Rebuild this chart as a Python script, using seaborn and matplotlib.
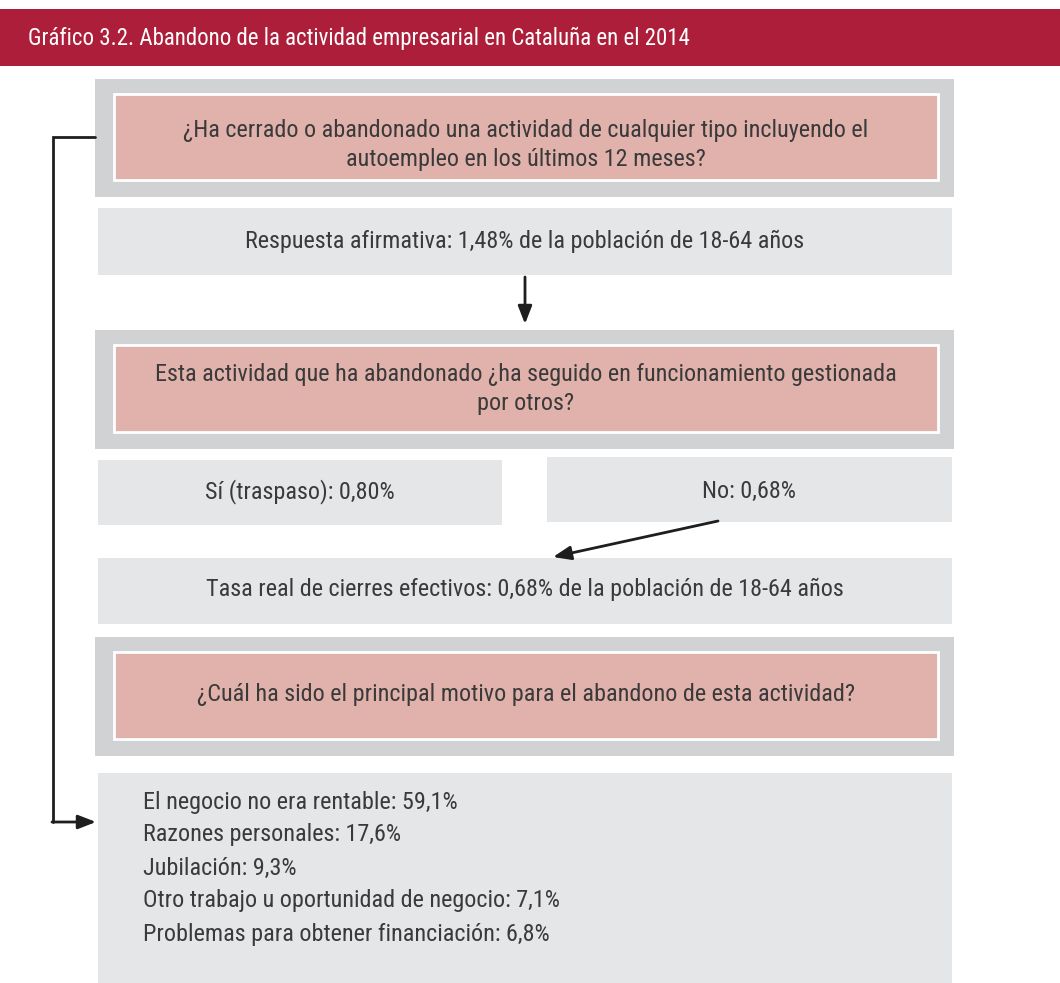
import matplotlib
matplotlib.use("Agg")
import matplotlib.pyplot as plt
import seaborn as sns
from matplotlib.patches import Rectangle

# ---- data ----
titulo = "Gráfico 3.2. Abandono de la actividad empresarial en Cataluña en el 2014"
pregunta_1 = "¿Ha cerrado o abandonado una actividad de cualquier tipo incluyendo el\nautoempleo en los últimos 12 meses?"
pregunta_2 = "Esta actividad que ha abandonado ¿ha seguido en funcionamiento gestionada\npor otros?"
pregunta_3 = "¿Cuál ha sido el principal motivo para el abandono de esta actividad?"
tasa_afirmativa = 1.48
tasa_traspaso = 0.80
tasa_no = 0.68
tasa_cierres = 0.68
motivos = [
    "El negocio no era rentable",
    "Razones personales",
    "Jubilación",
    "Otro trabajo u oportunidad de negocio",
    "Problemas para obtener financiación",
]
motivos_pct = [59.1, 17.6, 9.3, 7.1, 6.8]


def pct(v):
    return f"{v:.2f}".replace(".", ",") + "%"


def pct1(v):
    return f"{v:.1f}".replace(".", ",") + "%"


sns.set_theme(style="white")
plt.rcParams["font.family"] = ["Roboto Condensed", "Roboto", "DejaVu Sans"]

ROJO = "#AD1E3A"
GRIS_OSC = "#D1D2D4"
ROSA = "#E1B2AB"
GRIS_CLARO = "#E5E6E8"
TEXTO = "#3A3A3A"
FS = 17.4

fig = plt.figure(figsize=(10.6, 9.83), dpi=100)
ax = fig.add_axes([0, 0, 1, 1])
ax.set_xlim(0, 1060)
ax.set_ylim(983, 0)
ax.axis("off")


def caja(x0, y0, x1, y1, color, **kw):
    ax.add_patch(Rectangle((x0, y0), x1 - x0, y1 - y0, facecolor=color,
                           edgecolor="none", **kw))


def pregunta(y0, y1, texto, ytxt):
    caja(95, y0, 954, y1, GRIS_OSC)
    ax.add_patch(Rectangle((114, y0 + 15), 824, (y1 - y0) - 32,
                           facecolor=ROSA, edgecolor="white", linewidth=2))
    ax.text(526, ytxt, texto, ha="center", va="center",
            fontsize=FS, color=TEXTO, linespacing=1.3)


def flecha(x0, y0, x1, y1):
    ax.annotate("", xy=(x1, y1), xytext=(x0, y0),
                arrowprops=dict(arrowstyle="-|>,head_length=0.9,head_width=0.35",
                                color="#1E1E1E", lw=2, shrinkA=0, shrinkB=0))


# header
caja(0, 9, 1060, 66, ROJO)
ax.text(28, 38, titulo, ha="left", va="center", fontsize=16.5, color="white")

# first question
pregunta(79, 197, pregunta_1, 145)

caja(98, 208, 952, 275, GRIS_CLARO)
ax.text(525, 241,
        f"Respuesta afirmativa: {pct(tasa_afirmativa)} de la población de 18-64 años",
        ha="center", va="center", fontsize=FS, color=TEXTO)

flecha(525, 277, 525, 324)

# second question
pregunta(330, 449, pregunta_2, 389)

caja(98, 460, 502, 525, GRIS_CLARO)
ax.text(300, 492, f"Sí (traspaso): {pct(tasa_traspaso)}",
        ha="center", va="center", fontsize=FS, color=TEXTO)
caja(547, 457, 952, 522, GRIS_CLARO)
ax.text(749, 491, f"No: {pct(tasa_no)}",
        ha="center", va="center", fontsize=FS, color=TEXTO)

flecha(718, 521, 553, 557)

caja(98, 558, 952, 624, GRIS_CLARO)
ax.text(525, 589,
        f"Tasa real de cierres efectivos: {pct(tasa_cierres)} de la población de 18-64 años",
        ha="center", va="center", fontsize=FS, color=TEXTO)

# third question
pregunta(637, 756, pregunta_3, 695)

caja(98, 773, 952, 983, GRIS_CLARO)
for i, (m, v) in enumerate(zip(motivos, motivos_pct)):
    ax.text(143, 802 + i * 33, f"{m}: {pct1(v)}", ha="left", va="center",
            fontsize=FS, color=TEXTO)

# left connector
ax.plot([95, 53, 53], [137, 137, 822], color="#1E1E1E", lw=2,
        solid_joinstyle="miter")
flecha(52, 822, 96, 822)

fig.savefig("out.png", dpi=100)
